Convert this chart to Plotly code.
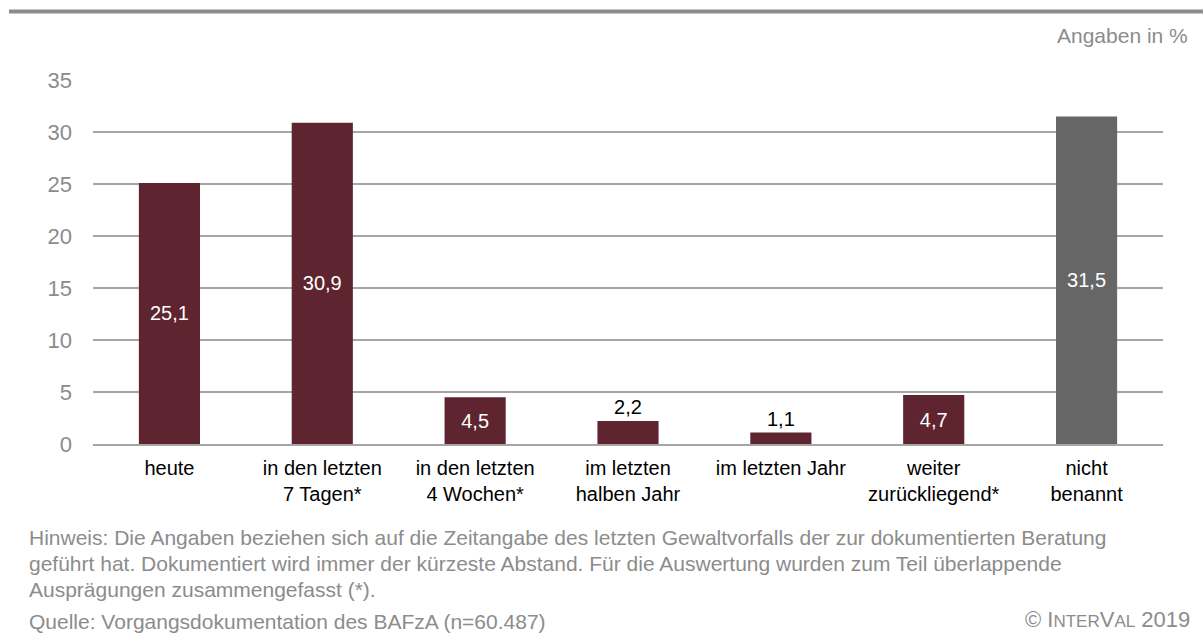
import plotly.graph_objects as go

categories = ["heute", "in den letzten<br>7 Tagen*", "in den letzten<br>4 Wochen*",
              "im letzten<br>halben Jahr", "im letzten Jahr",
              "weiter<br>zurückliegend*", "nicht<br>benannt"]
values = [25.1, 30.9, 4.5, 2.2, 1.1, 4.7, 31.5]
bar_colors = ["#5E2430"] * 6 + ["#666666"]
label_pos = ["inside", "inside", "inside", "outside", "outside", "inside", "inside"]
label_colors = ["white", "white", "white", "black", "black", "white", "white"]

note_lines = [
    "Hinweis: Die Angaben beziehen sich auf die Zeitangabe des letzten Gewaltvorfalls der zur dokumentierten Beratung",
    "geführt hat. Dokumentiert wird immer der kürzeste Abstand. Für die Auswertung wurden zum Teil überlappende",
    "Ausprägungen zusammengefasst (*).",
]
source = "Quelle: Vorgangsdokumentation des BAFzA (n=60.487)"

FONT = "Liberation Sans, Arial, sans-serif"
GRAY = "#8C8C8C"
PW, PH = 1070, 364  # plot area in px


def px_x(x):
    return (x - 93) / PW


def px_y(y):
    return (444 - y) / PH


fig = go.Figure()
fig.add_bar(
    x=categories, y=values,
    marker=dict(color=bar_colors, line=dict(width=0)),
    text=[f"{v:.1f}".replace(".", ",") for v in values],
    textposition=label_pos,
    insidetextanchor="middle",
    textfont=dict(family=FONT, size=20, color=label_colors),
    cliponaxis=False,
)

fig.update_layout(
    width=1203, height=637,
    margin=dict(l=93, r=40, t=80, b=193),
    plot_bgcolor="white", paper_bgcolor="white",
    bargap=0.6, showlegend=False,
    font=dict(family=FONT),
    uniformtext=dict(minsize=20, mode="show"),
)
fig.update_yaxes(
    range=[0, 35], dtick=5, showgrid=True, gridcolor="#A6A6A6", gridwidth=1.5,
    zeroline=False, showline=False,
    tickfont=dict(family=FONT, size=22, color=GRAY),
    ticklabelstandoff=20,
)
fig.update_xaxes(
    showline=True, linecolor="#A6A6A6", linewidth=1.5,
    tickfont=dict(family=FONT, size=20, color="black"),
    ticklabelstandoff=5,
)

# top rule
fig.add_shape(type="line", xref="paper", yref="paper",
              x0=px_x(9), x1=px_x(1210), y0=px_y(11.5), y1=px_y(11.5),
              line=dict(color=GRAY, width=4))

fig.add_annotation(text="Angaben in %", xref="paper", yref="paper",
                   x=px_x(1190), y=px_y(36), xanchor="right", yanchor="middle",
                   showarrow=False, font=dict(family=FONT, size=21, color=GRAY))

for line, yy in zip(note_lines, [537, 563, 589]):
    fig.add_annotation(text=line, xref="paper", yref="paper",
                       x=px_x(27), y=px_y(yy), xanchor="left", yanchor="middle",
                       showarrow=False, font=dict(family=FONT, size=21, color=GRAY))
fig.add_annotation(text=source, xref="paper", yref="paper",
                   x=px_x(27), y=px_y(621), xanchor="left", yanchor="middle",
                   showarrow=False, font=dict(family=FONT, size=21, color=GRAY))
fig.add_annotation(text="© I<span style='font-size:17px'>NTER</span>V<span style='font-size:17px'>AL</span> 2019",
                   xref="paper", yref="paper",
                   x=px_x(1192), y=px_y(619), xanchor="right", yanchor="middle",
                   showarrow=False, font=dict(family=FONT, size=22, color=GRAY))

fig.write_html("out.html", config={"displayModeBar": False},
               post_script="document.body.style.margin='0';")
